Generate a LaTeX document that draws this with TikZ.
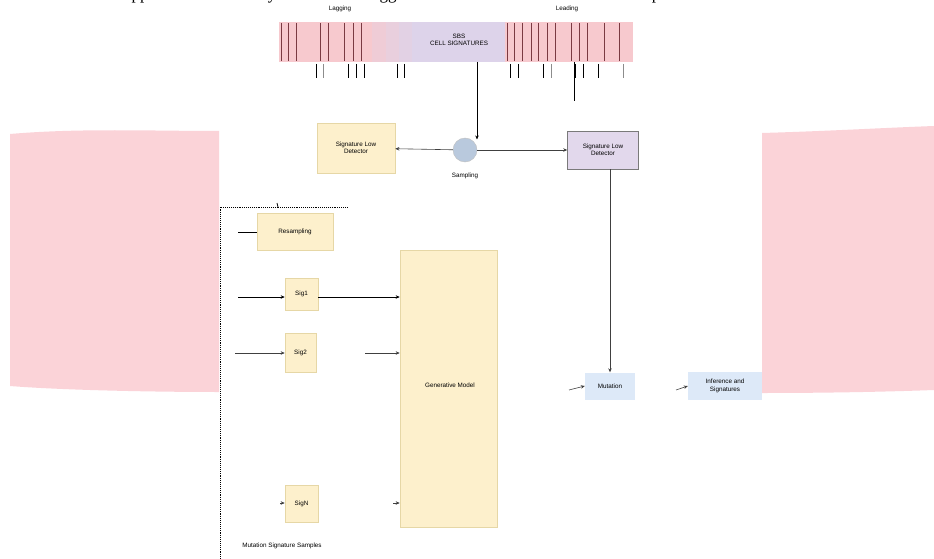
\documentclass[tikz,border=0pt]{standalone}
\usepackage{fontspec}
\setmainfont{Liberation Sans}
\newfontfamily\pageserif{Liberation Serif}
\usetikzlibrary{arrows.meta}
\definecolor{pinkbg}{HTML}{FBD3D8}
\definecolor{barpink}{HTML}{F7C9CE}
\definecolor{barpurple}{HTML}{DDD3EA}
\definecolor{barline}{HTML}{7A3A42}
\definecolor{yfill}{HTML}{FDF0CC}
\definecolor{ydraw}{HTML}{E6D7A6}
\definecolor{pfill}{HTML}{E2D8EC}
\definecolor{pdraw}{HTML}{7A7A7A}
\definecolor{bfill}{HTML}{DDE9F8}
\definecolor{cfill}{HTML}{B9C9DD}
\begin{document}
\begin{tikzpicture}[x=1pt,y=-1pt,
  >={Stealth[length=4pt,width=3.5pt]},
  every node/.style={font=\fontsize{6.3}{7.3}\selectfont, align=center, inner sep=1pt},
  ybox/.style={draw=ydraw, fill=yfill, line width=0.6pt},
  pbox/.style={draw=pdraw, fill=pfill, line width=0.6pt},
  bbox/.style={fill=bfill},
  conn/.style={draw=black!75, line width=0.6pt},
  tick/.style={draw=black, line width=1pt},
  btick/.style={draw=barline, line width=0.8pt}]
\useasboundingbox (0,0) rectangle (934,559);
\clip (0,0) rectangle (934,559);
% page text fragments (cut off at top)
\node[font=\pageserif\fontsize{17}{20}\selectfont, anchor=base, inner sep=0pt] (t1) at (140,-0.5) {pp};
\node[font=\pageserif\fontsize{17}{20}\selectfont, anchor=base, inner sep=0pt] (t2) at (272,-0.5) {y};
\node[font=\pageserif\fontsize{17}{20}\selectfont, anchor=base, inner sep=0pt] (t3) at (388,-0.5) {gg};
\node[font=\pageserif\fontsize{17}{20}\selectfont, anchor=base, inner sep=0pt] (t4) at (656,-0.5) {p};
% pink side bands
\fill[pinkbg] (10,134) .. controls (80,128) and (150,131) .. (219,131) -- (219,392) .. controls (150,392) and (60,390) .. (10,386) -- cycle;
\fill[pinkbg] (762,133) .. controls (830,131) and (880,128) .. (934,126) -- (934,390) .. controls (880,392) and (820,393) .. (762,393) -- cycle;
% top bar
\fill[barpink] (279,22) rectangle (372,62);
\fill[barpink!70!barpurple] (372,22) rectangle (386,62);
\fill[barpink!45!barpurple] (386,22) rectangle (399,62);
\fill[barpink!20!barpurple] (399,22) rectangle (412,62);
\fill[barpurple] (412,22) rectangle (505,62);
\fill[barpink] (505,22) rectangle (633,62);
\foreach \x in {281,288,296,320,328,344,353,361,507,514,522,531,538,547,555,571,579,587,604,619}
  \draw[btick] (\x,23) -- (\x,61);
\foreach \x in {316,348,356,364,397,404,510,518,543,575,583,598}
  \draw[tick] (\x,64) -- (\x,78);
\foreach \x in {323,551,623}
  \draw[tick, draw=black!45] (\x,64) -- (\x,78);
\node (lag) at (340,9) {Lagging};
\node (lead) at (567,9) {Leading};
\node (mid) at (459,40) {SBS\\CELL SIGNATURES};
\coordinate (b1) at (477,62);
\coordinate (b2) at (574,62);
\coordinate (b2end) at (574,101);
% nodes
\node[ybox, minimum width=78pt, minimum height=50pt] (sigdl) at (356,148) {Signature Low\\Detector};
\node[circle, fill=cfill, draw=black!25, minimum size=24pt, inner sep=0pt] (circ) at (465,150) {};
\node (circlab) at (465,176) {Sampling};
\node[pbox, minimum width=71pt, minimum height=38pt] (sigdr) at (603,150) {Signature Low\\Detector};
\node[bbox, minimum width=50pt, minimum height=27pt] (mut) at (610,386) {Mutation};
\node[bbox, minimum width=74pt, minimum height=28pt] (msig) at (725,386) {Inference and\\Signatures};
\node[ybox, minimum width=76pt, minimum height=37pt] (res) at (295,232) {Resampling};
\node[ybox, minimum width=33pt, minimum height=32pt] (sig1) at (301.5,294) {Sig1};
\node[ybox, minimum width=31pt, minimum height=39pt] (sig2) at (300.5,352.5) {Sig2};
\node[ybox, minimum width=33pt, minimum height=37pt] (sign) at (301.5,503.5) {SigN};
\node[ybox, minimum width=97pt, minimum height=277pt] (gen) at (448.5,388.5) {};
\node (genlab) at (450,385) {Generative Model};
\node (botlab) at (282,546) {Mutation Signature Samples};
% frame
\draw[densely dotted, line width=0.9pt] (220,559) -- (220,207) -- (347,207);
\draw[line width=0.8pt] (277,203) -- (278,207);
% connectors
\draw[->, line width=1pt] (b1) -- (b1 |- circ.60);
\draw[line width=1pt] (b2) -- (b2end);
\draw[->, conn] (circ) -- (sigdl);
\draw[->, conn] (circ) -- (sigdr);
\draw[->, conn] (mut.north |- sigdr.south) -- (mut.north);
\coordinate (m1) at (569,390);
\coordinate (m2) at (676,390);
\draw[->, conn] (m1) -- (mut.west);
\draw[->, conn] (m2) -- (msig.west);
\coordinate (r0) at (238,232);
\draw[line width=0.9pt] (r0) -- (res.west);
\coordinate (s10) at (238,297);
\draw[->, line width=0.9pt] (s10) -- (sig1.west |- s10);
\draw[->, line width=0.9pt] (sig1.east |- s10) -- (gen.west |- s10);
\coordinate (s20) at (235,353);
\draw[->, conn] (s20) -- (sig2.west |- s20);
\coordinate (s21) at (365,353);
\draw[->, conn] (s21) -- (gen.west |- s21);
\coordinate (sn0) at (280,503);
\draw[->, conn] (sn0) -- (sign.west |- sn0);
\coordinate (sn1) at (393,503);
\draw[->, conn] (sn1) -- (gen.west |- sn1);
\end{tikzpicture}
\end{document}
